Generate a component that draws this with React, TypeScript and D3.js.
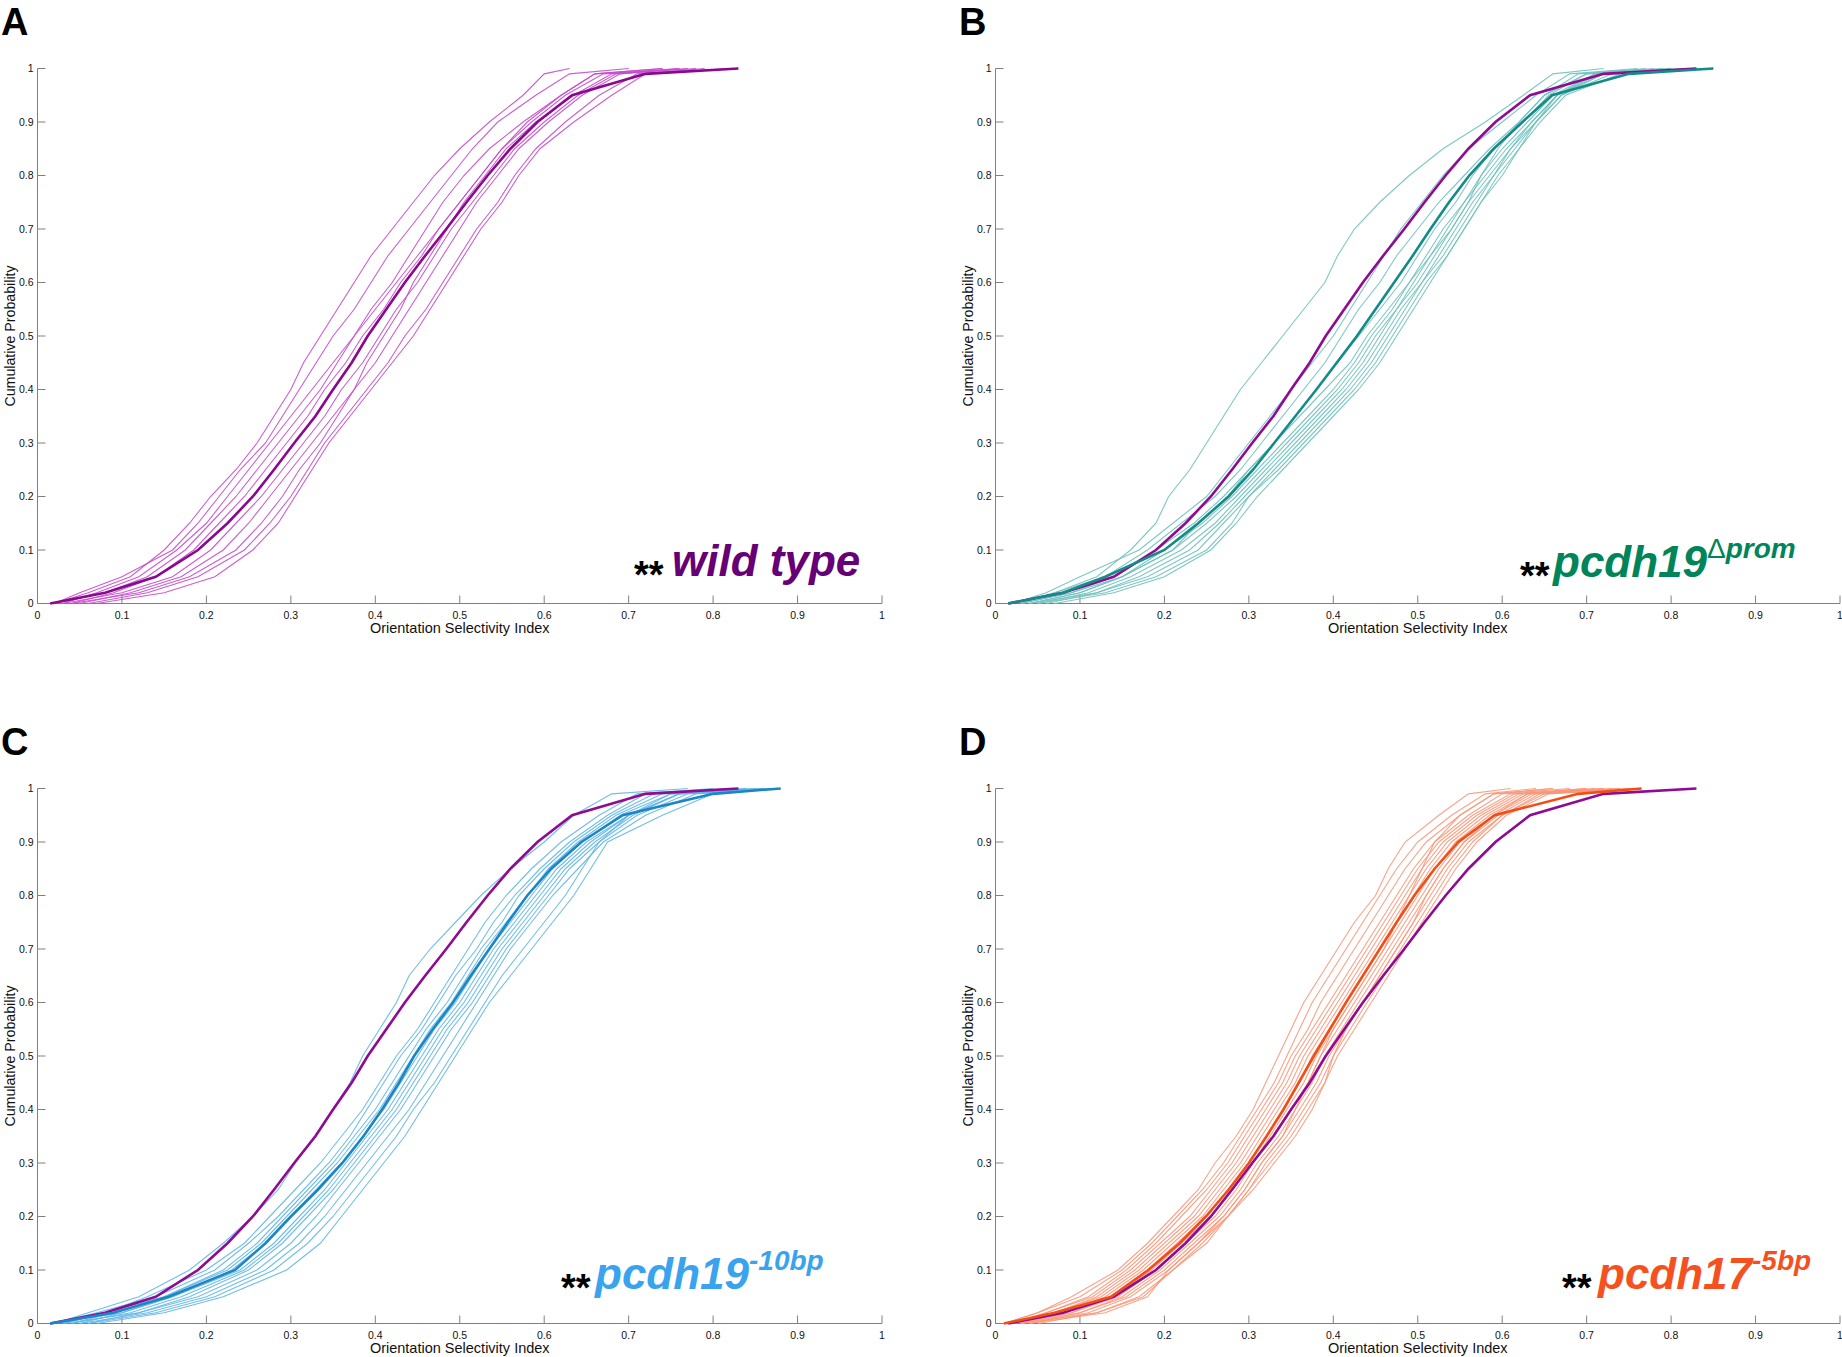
import * as d3 from "d3";

// cumulative probability levels at which each curve's OSI value was read
const LEVELS = [0, 0.02, 0.05, 0.1, 0.15, 0.2, 0.25, 0.3, 0.35, 0.4, 0.45, 0.5, 0.55, 0.6, 0.65, 0.7, 0.75, 0.8, 0.85, 0.9, 0.95, 0.99, 1];

const TICKS = [0, 0.1, 0.2, 0.3, 0.4, 0.5, 0.6, 0.7, 0.8, 0.9, 1];
const TICK_LABELS = ["0", "0.1", "0.2", "0.3", "0.4", "0.5", "0.6", "0.7", "0.8", "0.9", "1"];

const WT_MEAN = [0.015, 0.08, 0.14, 0.19, 0.225, 0.255, 0.28, 0.304, 0.329, 0.35, 0.372, 0.391, 0.413, 0.435, 0.459, 0.484, 0.508, 0.533, 0.56, 0.592, 0.633, 0.72, 0.83];
const WT_FISH = [
  [0.02, 0.06, 0.11, 0.15, 0.18, 0.205, 0.235, 0.26, 0.28, 0.3, 0.315, 0.335, 0.355, 0.375, 0.395, 0.42, 0.445, 0.47, 0.5, 0.535, 0.575, 0.6, 0.63],
  [0.02, 0.05, 0.1, 0.16, 0.19, 0.215, 0.24, 0.27, 0.29, 0.31, 0.33, 0.35, 0.375, 0.395, 0.415, 0.44, 0.465, 0.49, 0.515, 0.545, 0.59, 0.63, 0.7],
  [0.03, 0.07, 0.12, 0.165, 0.2, 0.225, 0.25, 0.275, 0.3, 0.325, 0.35, 0.375, 0.4, 0.425, 0.45, 0.475, 0.5, 0.525, 0.55, 0.58, 0.62, 0.66, 0.74],
  [0.02, 0.08, 0.13, 0.175, 0.205, 0.235, 0.26, 0.285, 0.31, 0.335, 0.355, 0.375, 0.395, 0.42, 0.44, 0.46, 0.48, 0.505, 0.535, 0.575, 0.62, 0.66, 0.74],
  [0.04, 0.09, 0.14, 0.185, 0.215, 0.245, 0.27, 0.295, 0.32, 0.34, 0.365, 0.385, 0.41, 0.43, 0.455, 0.475, 0.5, 0.525, 0.55, 0.585, 0.625, 0.67, 0.76],
  [0.03, 0.1, 0.16, 0.205, 0.235, 0.265, 0.29, 0.315, 0.34, 0.36, 0.385, 0.405, 0.425, 0.45, 0.47, 0.49, 0.515, 0.54, 0.565, 0.6, 0.64, 0.685, 0.78],
  [0.05, 0.11, 0.17, 0.22, 0.25, 0.275, 0.3, 0.325, 0.35, 0.375, 0.4, 0.42, 0.44, 0.46, 0.48, 0.5, 0.52, 0.545, 0.57, 0.605, 0.645, 0.69, 0.76],
  [0.04, 0.12, 0.18, 0.235, 0.265, 0.29, 0.31, 0.335, 0.355, 0.375, 0.39, 0.41, 0.43, 0.445, 0.465, 0.485, 0.505, 0.53, 0.555, 0.59, 0.635, 0.68, 0.77],
  [0.06, 0.13, 0.19, 0.245, 0.275, 0.3, 0.32, 0.34, 0.365, 0.39, 0.415, 0.435, 0.46, 0.48, 0.5, 0.52, 0.545, 0.565, 0.59, 0.625, 0.665, 0.71, 0.79],
  [0.07, 0.15, 0.21, 0.255, 0.285, 0.305, 0.325, 0.345, 0.37, 0.395, 0.42, 0.445, 0.465, 0.485, 0.505, 0.525, 0.55, 0.57, 0.595, 0.635, 0.68, 0.72, 0.82],
];

const PROM_MEAN = [0.015, 0.08, 0.13, 0.2, 0.24, 0.276, 0.305, 0.33, 0.355, 0.38, 0.404, 0.428, 0.45, 0.472, 0.494, 0.515, 0.537, 0.561, 0.59, 0.624, 0.659, 0.75, 0.85];
const PROM_FISH = [
  [0.03, 0.07, 0.12, 0.16, 0.19, 0.205, 0.23, 0.25, 0.27, 0.29, 0.315, 0.34, 0.365, 0.39, 0.405, 0.425, 0.455, 0.49, 0.53, 0.58, 0.625, 0.66, 0.72],
  [0.02, 0.06, 0.1, 0.17, 0.21, 0.25, 0.275, 0.3, 0.325, 0.35, 0.375, 0.4, 0.42, 0.44, 0.46, 0.48, 0.505, 0.53, 0.56, 0.6, 0.64, 0.68, 0.76],
  [0.02, 0.07, 0.13, 0.18, 0.22, 0.26, 0.29, 0.315, 0.34, 0.365, 0.39, 0.41, 0.43, 0.455, 0.475, 0.5, 0.525, 0.555, 0.585, 0.62, 0.65, 0.69, 0.78],
  [0.03, 0.09, 0.14, 0.19, 0.235, 0.27, 0.3, 0.33, 0.355, 0.38, 0.405, 0.43, 0.455, 0.48, 0.5, 0.52, 0.545, 0.565, 0.59, 0.625, 0.655, 0.7, 0.8],
  [0.04, 0.1, 0.15, 0.2, 0.245, 0.28, 0.31, 0.34, 0.37, 0.4, 0.425, 0.445, 0.47, 0.49, 0.51, 0.53, 0.555, 0.575, 0.6, 0.63, 0.66, 0.71, 0.82],
  [0.03, 0.09, 0.15, 0.21, 0.25, 0.285, 0.315, 0.345, 0.375, 0.405, 0.43, 0.45, 0.475, 0.495, 0.515, 0.535, 0.555, 0.58, 0.605, 0.635, 0.665, 0.715, 0.84],
  [0.05, 0.11, 0.16, 0.22, 0.26, 0.29, 0.32, 0.35, 0.38, 0.41, 0.435, 0.455, 0.475, 0.5, 0.52, 0.54, 0.56, 0.585, 0.61, 0.635, 0.665, 0.72, 0.85],
  [0.04, 0.12, 0.17, 0.23, 0.265, 0.295, 0.325, 0.355, 0.385, 0.415, 0.44, 0.46, 0.48, 0.505, 0.525, 0.545, 0.565, 0.59, 0.61, 0.64, 0.67, 0.73, 0.83],
  [0.06, 0.12, 0.18, 0.24, 0.27, 0.3, 0.33, 0.36, 0.39, 0.42, 0.445, 0.465, 0.485, 0.505, 0.53, 0.55, 0.57, 0.59, 0.615, 0.64, 0.67, 0.72, 0.8],
  [0.05, 0.13, 0.19, 0.25, 0.28, 0.3, 0.335, 0.365, 0.395, 0.425, 0.45, 0.47, 0.49, 0.51, 0.535, 0.555, 0.575, 0.595, 0.62, 0.645, 0.675, 0.74, 0.84],
  [0.07, 0.14, 0.2, 0.255, 0.285, 0.31, 0.34, 0.37, 0.4, 0.43, 0.455, 0.475, 0.495, 0.515, 0.535, 0.555, 0.575, 0.6, 0.62, 0.64, 0.665, 0.71, 0.79],
  [0.04, 0.1, 0.15, 0.21, 0.24, 0.275, 0.3, 0.33, 0.36, 0.39, 0.42, 0.44, 0.465, 0.49, 0.515, 0.54, 0.56, 0.575, 0.595, 0.62, 0.65, 0.7, 0.77],
];

const BP10_MEAN = [0.015, 0.09, 0.155, 0.234, 0.27, 0.3, 0.332, 0.361, 0.386, 0.408, 0.428, 0.446, 0.468, 0.492, 0.513, 0.535, 0.557, 0.58, 0.608, 0.644, 0.693, 0.8, 0.88];
const BP10_FISH = [
  [0.02, 0.06, 0.12, 0.18, 0.22, 0.255, 0.285, 0.305, 0.33, 0.35, 0.37, 0.385, 0.405, 0.425, 0.44, 0.465, 0.495, 0.525, 0.56, 0.6, 0.635, 0.68, 0.77],
  [0.03, 0.08, 0.13, 0.2, 0.245, 0.275, 0.305, 0.335, 0.36, 0.385, 0.405, 0.425, 0.45, 0.47, 0.49, 0.51, 0.53, 0.555, 0.585, 0.62, 0.665, 0.71, 0.8],
  [0.02, 0.07, 0.14, 0.21, 0.25, 0.285, 0.315, 0.345, 0.37, 0.39, 0.41, 0.43, 0.455, 0.475, 0.495, 0.52, 0.54, 0.565, 0.595, 0.63, 0.675, 0.72, 0.82],
  [0.03, 0.08, 0.15, 0.22, 0.26, 0.29, 0.32, 0.35, 0.375, 0.4, 0.42, 0.44, 0.46, 0.485, 0.505, 0.525, 0.55, 0.57, 0.6, 0.635, 0.68, 0.73, 0.84],
  [0.04, 0.09, 0.15, 0.225, 0.265, 0.295, 0.325, 0.355, 0.38, 0.405, 0.425, 0.445, 0.465, 0.49, 0.51, 0.53, 0.555, 0.58, 0.605, 0.64, 0.685, 0.74, 0.86],
  [0.02, 0.1, 0.16, 0.23, 0.27, 0.3, 0.33, 0.36, 0.385, 0.41, 0.43, 0.45, 0.47, 0.495, 0.515, 0.535, 0.56, 0.585, 0.61, 0.645, 0.69, 0.75, 0.85],
  [0.05, 0.1, 0.16, 0.24, 0.28, 0.31, 0.34, 0.365, 0.39, 0.415, 0.435, 0.455, 0.475, 0.5, 0.52, 0.54, 0.565, 0.59, 0.615, 0.65, 0.7, 0.75, 0.87],
  [0.04, 0.11, 0.17, 0.245, 0.285, 0.315, 0.345, 0.37, 0.395, 0.42, 0.44, 0.46, 0.48, 0.505, 0.525, 0.545, 0.57, 0.595, 0.62, 0.655, 0.7, 0.76, 0.88],
  [0.03, 0.12, 0.18, 0.25, 0.29, 0.32, 0.35, 0.375, 0.4, 0.425, 0.445, 0.465, 0.485, 0.51, 0.53, 0.55, 0.575, 0.6, 0.625, 0.66, 0.705, 0.76, 0.86],
  [0.06, 0.12, 0.19, 0.26, 0.3, 0.33, 0.355, 0.38, 0.405, 0.43, 0.45, 0.47, 0.49, 0.515, 0.535, 0.555, 0.58, 0.605, 0.63, 0.665, 0.71, 0.77, 0.88],
  [0.05, 0.13, 0.2, 0.27, 0.31, 0.34, 0.365, 0.39, 0.415, 0.44, 0.46, 0.48, 0.5, 0.52, 0.54, 0.56, 0.585, 0.61, 0.64, 0.67, 0.72, 0.78, 0.87],
  [0.06, 0.14, 0.21, 0.28, 0.32, 0.35, 0.375, 0.4, 0.425, 0.445, 0.47, 0.49, 0.51, 0.53, 0.55, 0.575, 0.6, 0.625, 0.645, 0.665, 0.7, 0.76, 0.84],
  [0.07, 0.15, 0.22, 0.295, 0.335, 0.36, 0.385, 0.41, 0.435, 0.455, 0.475, 0.495, 0.515, 0.535, 0.56, 0.585, 0.61, 0.635, 0.655, 0.675, 0.74, 0.8, 0.86],
];

const BP5_MEAN = [0.01, 0.07, 0.137, 0.181, 0.218, 0.249, 0.276, 0.3, 0.321, 0.341, 0.359, 0.377, 0.396, 0.415, 0.435, 0.455, 0.475, 0.496, 0.52, 0.548, 0.591, 0.69, 0.765];
const BP5_FISH = [
  [0.01, 0.05, 0.09, 0.145, 0.18, 0.21, 0.24, 0.26, 0.285, 0.305, 0.32, 0.335, 0.35, 0.365, 0.385, 0.405, 0.425, 0.45, 0.465, 0.485, 0.525, 0.56, 0.61],
  [0.01, 0.05, 0.1, 0.15, 0.185, 0.215, 0.245, 0.27, 0.29, 0.31, 0.33, 0.345, 0.36, 0.375, 0.395, 0.415, 0.435, 0.455, 0.475, 0.5, 0.54, 0.58, 0.64],
  [0.02, 0.06, 0.11, 0.155, 0.19, 0.22, 0.25, 0.275, 0.295, 0.315, 0.335, 0.35, 0.37, 0.385, 0.405, 0.425, 0.445, 0.465, 0.485, 0.51, 0.55, 0.59, 0.66],
  [0.02, 0.06, 0.115, 0.16, 0.195, 0.23, 0.255, 0.28, 0.3, 0.32, 0.34, 0.355, 0.375, 0.395, 0.415, 0.435, 0.455, 0.475, 0.495, 0.52, 0.56, 0.6, 0.68],
  [0.01, 0.07, 0.12, 0.165, 0.2, 0.235, 0.26, 0.285, 0.305, 0.325, 0.345, 0.36, 0.38, 0.4, 0.42, 0.44, 0.46, 0.48, 0.5, 0.525, 0.565, 0.61, 0.7],
  [0.02, 0.07, 0.125, 0.17, 0.205, 0.24, 0.265, 0.29, 0.31, 0.33, 0.35, 0.365, 0.385, 0.405, 0.425, 0.445, 0.465, 0.485, 0.505, 0.53, 0.57, 0.615, 0.72],
  [0.03, 0.08, 0.13, 0.175, 0.21, 0.245, 0.27, 0.295, 0.315, 0.335, 0.355, 0.37, 0.39, 0.41, 0.43, 0.45, 0.47, 0.49, 0.51, 0.535, 0.575, 0.62, 0.71],
  [0.02, 0.08, 0.135, 0.18, 0.215, 0.25, 0.275, 0.3, 0.32, 0.34, 0.36, 0.375, 0.395, 0.415, 0.435, 0.455, 0.475, 0.495, 0.515, 0.54, 0.58, 0.625, 0.73],
  [0.03, 0.09, 0.14, 0.185, 0.22, 0.255, 0.28, 0.305, 0.325, 0.345, 0.365, 0.38, 0.4, 0.42, 0.44, 0.46, 0.48, 0.5, 0.52, 0.545, 0.585, 0.63, 0.74],
  [0.02, 0.09, 0.145, 0.19, 0.225, 0.26, 0.285, 0.305, 0.33, 0.35, 0.37, 0.385, 0.405, 0.425, 0.445, 0.465, 0.485, 0.505, 0.525, 0.55, 0.59, 0.635, 0.72],
  [0.04, 0.1, 0.15, 0.195, 0.23, 0.265, 0.29, 0.31, 0.335, 0.355, 0.375, 0.39, 0.41, 0.43, 0.45, 0.47, 0.49, 0.51, 0.53, 0.555, 0.595, 0.64, 0.75],
  [0.03, 0.1, 0.155, 0.2, 0.235, 0.27, 0.295, 0.315, 0.34, 0.36, 0.38, 0.395, 0.415, 0.435, 0.455, 0.475, 0.495, 0.515, 0.535, 0.56, 0.6, 0.645, 0.76],
  [0.04, 0.11, 0.16, 0.205, 0.24, 0.275, 0.3, 0.32, 0.345, 0.365, 0.385, 0.4, 0.42, 0.44, 0.46, 0.48, 0.5, 0.52, 0.54, 0.565, 0.6, 0.65, 0.74],
  [0.03, 0.12, 0.17, 0.21, 0.245, 0.275, 0.3, 0.325, 0.35, 0.37, 0.39, 0.405, 0.425, 0.445, 0.465, 0.485, 0.505, 0.525, 0.545, 0.57, 0.605, 0.655, 0.76],
  [0.05, 0.12, 0.175, 0.21, 0.25, 0.275, 0.305, 0.33, 0.355, 0.375, 0.39, 0.4, 0.415, 0.435, 0.455, 0.475, 0.495, 0.51, 0.53, 0.555, 0.59, 0.63, 0.7],
  [0.04, 0.13, 0.18, 0.205, 0.24, 0.27, 0.295, 0.315, 0.34, 0.355, 0.37, 0.385, 0.4, 0.42, 0.44, 0.46, 0.475, 0.49, 0.505, 0.52, 0.55, 0.59, 0.66],
];

const FONT = "'Liberation Sans', Arial, Helvetica, sans-serif";
const WT_COLOR = "#8e0b92";

type Panel = {
  letter: string;
  dx: number;
  dy: number;
  fish: number[][];
  mean: number[];
  thinColor: string;
  meanColor: string;
  showWT: boolean;
  name: string;
  sup: string;
  labelColor: string;
  starX: number;
  nameX: number;
  labelY: number;
};

const PANELS: Panel[] = [
  { letter: "A", dx: 0, dy: 0, fish: WT_FISH, mean: WT_MEAN, thinColor: "#c44ccb", meanColor: "#8b078f", showWT: false, name: "wild type", sup: "", labelColor: "#660077", starX: 634, nameX: 672, labelY: 576 },
  { letter: "B", dx: 958, dy: 0, fish: PROM_FISH, mean: PROM_MEAN, thinColor: "#6fc1be", meanColor: "#138b89", showWT: true, name: "pcdh19", sup: "prom", labelColor: "#00845a", starX: 1520, nameX: 1553, labelY: 577 },
  { letter: "C", dx: 0, dy: 720, fish: BP10_FISH, mean: BP10_MEAN, thinColor: "#62b6e6", meanColor: "#1b86c5", showWT: true, name: "pcdh19", sup: "-10bp", labelColor: "#3aa3ee", starX: 561, nameX: 595, labelY: 1289 },
  { letter: "D", dx: 958, dy: 720, fish: BP5_FISH, mean: BP5_MEAN, thinColor: "#f8987a", meanColor: "#f24d17", showWT: true, name: "pcdh17", sup: "-5bp", labelColor: "#f4511e", starX: 1562, nameX: 1598, labelY: 1289 },
];

function CdfPanel({ p }: { p: Panel }) {
  const x = d3.scaleLinear().domain([0, 1]).range([37.5 + p.dx, 882 + p.dx]);
  const y = d3.scaleLinear().domain([0, 1]).range([603.5 + p.dy, 68.5 + p.dy]);
  const line = d3.line<number>().x((v) => x(v)).y((_, i) => y(LEVELS[i]));
  const axisColor = "#808080";
  const baseY = y(0);
  const leftX = x(0);

  return (
    <g>
      <text x={1 + p.dx} y={35 + p.dy} fontFamily={FONT} fontWeight="bold" fontSize={38} fill="#000">{p.letter}</text>

      {/* axes */}
      <line x1={leftX} x2={leftX} y1={y(1)} y2={baseY} stroke={axisColor} strokeWidth={1} />
      <line x1={leftX} x2={x(1)} y1={baseY} y2={baseY} stroke={axisColor} strokeWidth={1} />
      {TICKS.map((t, i) => (
        <g key={"x" + i}>
          <line x1={x(t)} x2={x(t)} y1={baseY} y2={baseY - 8} stroke={axisColor} strokeWidth={1} />
          <text x={x(t)} y={baseY + 15} textAnchor="middle" fontFamily={FONT} fontSize={10.5} fill="#111">{TICK_LABELS[i]}</text>
        </g>
      ))}
      {TICKS.map((t, i) => (
        <g key={"y" + i}>
          <line x1={leftX} x2={leftX + 8} y1={y(t)} y2={y(t)} stroke={axisColor} strokeWidth={1} />
          <text x={leftX - 4} y={y(t) + 3.5} textAnchor="end" fontFamily={FONT} fontSize={10.5} fill="#111">{TICK_LABELS[i]}</text>
        </g>
      ))}
      <text x={(x(0) + x(1)) / 2} y={baseY + 29} textAnchor="middle" fontFamily={FONT} fontSize={14.5} fill="#111">Orientation Selectivity Index</text>
      <text transform={`translate(${15 + p.dx},${(y(0) + y(1)) / 2}) rotate(-90)`} textAnchor="middle" fontFamily={FONT} fontSize={14.2} fill="#111">Cumulative Probability</text>

      {/* individual fish */}
      <g fill="none" stroke={p.thinColor} strokeWidth={1.1} strokeOpacity={0.9}>
        {p.fish.map((f, i) => <path key={i} d={line(f) ?? ""} />)}
      </g>
      {p.showWT && <path d={line(WT_MEAN) ?? ""} fill="none" stroke={WT_COLOR} strokeWidth={2.6} />}
      <path d={line(p.mean) ?? ""} fill="none" stroke={p.meanColor} strokeWidth={2.6} />

      {/* genotype label */}
      <text x={p.starX} y={p.labelY + 12} fontFamily={FONT} fontWeight="bold" fontSize={38} fill="#000">**</text>
      <text x={p.nameX} y={p.labelY} fontFamily={FONT} fontWeight="bold" fontStyle="italic" fontSize={44} fill={p.labelColor}>
        {p.name}
        {p.sup && (
          <tspan dy={-19} fontSize={28}>
            {p.letter === "B" && <tspan fontStyle="normal" fontWeight="normal">Δ</tspan>}
            {p.sup}
          </tspan>
        )}
      </text>
    </g>
  );
}

export default function App() {
  return (
    <svg width={1842} height={1357} viewBox="0 0 1842 1357" style={{ position: "absolute", left: 0, top: 0, background: "#fff" }}>
      <rect x={0} y={0} width={1842} height={1357} fill="#fff" />
      {PANELS.map((p) => <CdfPanel key={p.letter} p={p} />)}
    </svg>
  );
}
